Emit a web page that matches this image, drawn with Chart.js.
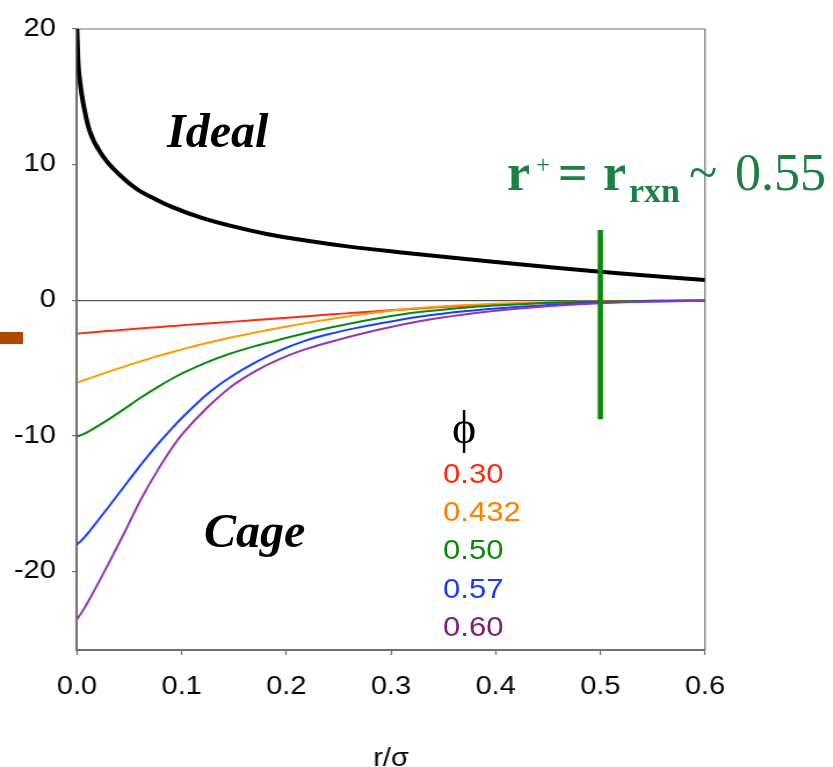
<!DOCTYPE html>
<html>
<head>
<meta charset="utf-8">
<script src="https://cdn.jsdelivr.net/npm/chart.js@4.4.1/dist/chart.umd.min.js"></script>
<style>
  html, body { margin: 0; padding: 0; background: #fff; }
  #wrap { position: relative; width: 833px; height: 767px; overflow: hidden; }
  #chart { position: absolute; left: 0; top: 0; transform-origin: 0 0; transform: scaleX(1.16); }
  #notes { position: absolute; left: 0; top: 0; pointer-events: none; }
  #tab { position: absolute; left: 0; top: 332px; width: 23px; height: 12px; background: #b04800; }
</style>
</head>
<body>
<div id="wrap">
  <canvas id="chart" width="718" height="767"></canvas>
  <div id="tab"></div>
  <svg id="notes" width="833" height="767" xmlns="http://www.w3.org/2000/svg"></svg>
</div>
<script>
// --- data ---
const rIdeal = [0, 0.001, 0.003, 0.006, 0.012, 0.025, 0.04, 0.057, 0.075, 0.09, 0.12, 0.15, 0.18, 0.22, 0.26, 0.31, 0.35, 0.40, 0.45, 0.50, 0.55, 0.60];
const ideal  = [20, 17.7, 16.0, 14.5, 12.5, 10.6, 9.3, 8.2, 7.45, 6.9, 6.05, 5.42, 4.9, 4.38, 3.95, 3.52, 3.2, 2.82, 2.45, 2.09, 1.78, 1.48];

const rCage = [0, 0.005, 0.013, 0.029, 0.045, 0.06, 0.077, 0.092, 0.102, 0.124, 0.146, 0.17, 0.194, 0.217, 0.241, 0.265, 0.289, 0.327, 0.37, 0.423, 0.46, 0.5, 0.55, 0.6];
const cage030  = [-2.46, -2.43, -2.38, -2.28, -2.18, -2.09, -1.99, -1.9, -1.84, -1.72, -1.6, -1.47, -1.34, -1.2, -1.06, -0.93, -0.8, -0.61, -0.42, -0.26, -0.18, -0.12, -0.07, -0.04];
const cage0432 = [-6.09, -5.95, -5.73, -5.31, -4.9, -4.53, -4.13, -3.8, -3.59, -3.16, -2.77, -2.39, -2.03, -1.71, -1.4, -1.12, -0.87, -0.58, -0.36, -0.2, -0.13, -0.08, -0.04, -0.02];
const cage050  = [-10.06, -9.92, -9.6, -8.85, -8.03, -7.23, -6.41, -5.74, -5.34, -4.58, -3.95, -3.39, -2.9, -2.46, -2.04, -1.66, -1.32, -0.88, -0.55, -0.3, -0.18, -0.1, -0.05, -0.02];
const cage057  = [-18.02, -17.66, -16.94, -15.36, -13.74, -12.24, -10.64, -9.34, -8.54, -6.95, -5.7, -4.6, -3.7, -3.02, -2.5, -2.08, -1.72, -1.22, -0.82, -0.48, -0.31, -0.18, -0.08, -0.03];
const cage060  = [-23.52, -22.97, -21.91, -19.59, -17.19, -14.85, -12.55, -10.75, -9.75, -7.95, -6.45, -5.25, -4.33, -3.65, -3.1, -2.6, -2.16, -1.55, -1.05, -0.62, -0.4, -0.23, -0.1, -0.04];

const phiLabels = ['0.30', '0.432', '0.50', '0.57', '0.60'];
const phiColors = ['#ff2a12', '#ff8000', '#0a8a0a', '#1a3cff', '#7b1f80'];
const lineColors = ['#ff2a12', '#ff9a00', '#0a8a0a', '#1640ff', '#9436b4'];

const markerR = [0.5, 0.5];
const markerU = [5.18, -8.78];

const xTicks = [0, 0.1, 0.2, 0.3, 0.4, 0.5, 0.6];
const yTicks = [-20, -10, 0, 10, 20];

// --- layout (screen px); canvas is stretched horizontally like the source slide ---
const STRETCH = 1.16;
const CW = 718;
const AREA = { left: 77, right: 705, top: 23, bottom: 650 };
const AXIS_GRAY = '#707070';

const pts = (xs, ys) => xs.map((x, i) => ({ x: x, y: ys[i] }));

const cageSets = [cage030, cage0432, cage050, cage057, cage060].map((ys, i) => ({
  label: 'phi ' + phiLabels[i],
  data: pts(rCage, ys),
  borderColor: lineColors[i],
  borderWidth: 2,
  order: 7 - i
}));

const framePlugin = {
  id: 'frame',
  beforeDatasetsDraw(chart) {
    const { ctx, chartArea: a } = chart;
    ctx.save();
    ctx.strokeStyle = AXIS_GRAY;
    ctx.lineWidth = 1.2;
    ctx.beginPath();
    ctx.moveTo(a.left, a.top);
    ctx.lineTo(a.right, a.top);
    ctx.lineTo(a.right, a.bottom);
    ctx.stroke();
    ctx.restore();
  }
};

Chart.defaults.font.family = "'Liberation Sans', Arial, sans-serif";
Chart.defaults.color = '#000';

new Chart(document.getElementById('chart'), {
  type: 'line',
  data: {
    datasets: [
      {
        label: 'Ideal',
        data: pts(rIdeal, ideal),
        borderColor: '#000',
        borderWidth: 4,
        order: 1
      },
      ...cageSets,
      {
        label: 'r+',
        data: pts(markerR, markerU),
        borderColor: '#0a8a0a',
        borderWidth: 4.6,
        borderCapStyle: 'butt',
        order: 0
      }
    ]
  },
  options: {
    responsive: false,
    animation: false,
    parsing: false,
    elements: {
      point: { radius: 0 },
      line: { cubicInterpolationMode: 'monotone', fill: false }
    },
    layout: {
      padding: { left: 0, top: AREA.top, right: CW - AREA.right / STRETCH, bottom: 0 }
    },
    plugins: {
      legend: { display: false },
      tooltip: { enabled: false }
    },
    scales: {
      x: {
        type: 'linear',
        min: 0,
        max: 0.6,
        afterBuildTicks: (s) => { s.ticks = xTicks.map(v => ({ value: v })); },
        afterFit: (s) => { s.height = 767 - AREA.bottom; },
        border: { display: true, color: AXIS_GRAY, width: 2 },
        grid: { drawOnChartArea: false, color: AXIS_GRAY, tickLength: 5, tickWidth: 1.2 },
        ticks: { font: { size: 25 }, padding: 17, maxRotation: 0, callback: (v) => v.toFixed(1) },
        title: { display: true, text: 'r/σ', font: { size: 25 }, color: '#000', padding: { top: 0, bottom: -7 } }
      },
      y: {
        type: 'linear',
        min: -25.8,
        max: 20,
        afterBuildTicks: (s) => { s.ticks = yTicks.map(v => ({ value: v })); },
        afterFit: (s) => { s.width = AREA.left / STRETCH; },
        border: { display: true, color: AXIS_GRAY, width: 2 },
        grid: {
          color: (c) => (c.tick && c.tick.value === 0 ? '#555' : 'rgba(0,0,0,0)'),
          lineWidth: 1.2,
          tickColor: AXIS_GRAY,
          tickLength: 4.3,
          tickWidth: 1.2
        },
        ticks: { font: { size: 25 }, padding: 14 }
      }
    }
  },
  plugins: [framePlugin]
});

// --- text annotations as SVG text ---
const NS = 'http://www.w3.org/2000/svg';
const svg = document.getElementById('notes');
const SERIF = "'Liberation Serif', 'Times New Roman', 'DejaVu Serif', serif";
const SANS = "'Liberation Sans', Arial, sans-serif";

function addText(str, x, y, attrs, sx) {
  const t = document.createElementNS(NS, 'text');
  t.textContent = str;
  t.setAttribute('x', 0);
  t.setAttribute('y', 0);
  t.setAttribute('transform', 'translate(' + x + ',' + y + ') scale(' + (sx || 1) + ',1)');
  for (const k in attrs) t.setAttribute(k, attrs[k]);
  svg.appendChild(t);
  return t;
}

addText('Ideal', 167, 147, { 'font-family': SERIF, 'font-size': 48, 'font-weight': 'bold', 'font-style': 'italic', fill: '#000' });
addText('Cage', 204, 547, { 'font-family': SERIF, 'font-size': 48, 'font-weight': 'bold', 'font-style': 'italic', fill: '#000' });

// r+ = r_rxn ~ 0.55
const NOTE_GREEN = '#1d8043';
addText('r', 507, 190, { 'font-family': SERIF, 'font-size': 52, 'font-weight': 'bold', fill: NOTE_GREEN });
addText('+', 536, 173, { 'font-family': SERIF, 'font-size': 25, fill: NOTE_GREEN });
addText('=', 558, 190, { 'font-family': SERIF, 'font-size': 52, 'font-weight': 'bold', fill: NOTE_GREEN });
addText('r', 603, 190, { 'font-family': SERIF, 'font-size': 52, 'font-weight': 'bold', fill: NOTE_GREEN });
addText('rxn', 629, 202, { 'font-family': SERIF, 'font-size': 34, 'font-weight': 'bold', fill: NOTE_GREEN });
addText('~', 689, 190, { 'font-family': SERIF, 'font-size': 52, fill: NOTE_GREEN });
addText('0.55', 735, 190, { 'font-family': SERIF, 'font-size': 52, fill: NOTE_GREEN });

// phi legend
addText('\u03D5', 452, 443, { 'font-family': SERIF, 'font-size': 46, fill: '#000' });
phiLabels.forEach((lab, i) => {
  addText(lab, 443, 482.7 + i * 38.3, { 'font-family': SANS, 'font-size': 27, fill: phiColors[i] }, 1.15);
});
</script>
</body>
</html>
